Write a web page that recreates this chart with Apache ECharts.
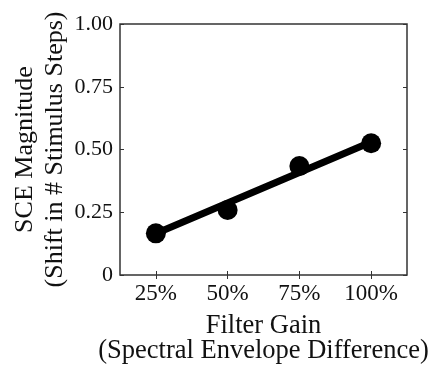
<!DOCTYPE html>
<html>
<head>
<meta charset="utf-8">
<script src="https://cdn.jsdelivr.net/npm/echarts@6/dist/echarts.min.js"></script>
<style>
  html, body { margin: 0; padding: 0; background: #fff; }
  #chart { width: 430px; height: 366px; }
</style>
</head>
<body>
<div id="chart"></div>
<script>
// values
const filterGains = ["25%", "50%", "75%", "100%"];
const sceMagnitude = [0.166, 0.259, 0.434, 0.525];
const fitLine = [0.165, 0.287, 0.408, 0.53];
const yTickLabels = ["0", "0.25", "0.50", "0.75", "1.00"];

const font = "Liberation Serif";
const frame = "#333";
const ink = "#111";

const chart = echarts.init(document.getElementById("chart"));

const tickStyle = { show: true, inside: true, length: 4, lineStyle: { color: frame, width: 1 } };

chart.setOption({
  animation: false,
  grid: {
    left: 120, right: 23, top: 24, bottom: 91,
    outerBoundsMode: "none",
    show: true, borderColor: frame, borderWidth: 1.5,
  },
  textStyle: { fontFamily: font },
  xAxis: [
    {
      type: "category",
      data: filterGains,
      boundaryGap: true,
      axisLine: { show: false },
      axisTick: { ...tickStyle, alignWithLabel: true },
      axisLabel: { color: ink, fontSize: 23, fontFamily: font, margin: 7 },
      name: "Filter Gain\n(Spectral Envelope Difference)",
      nameLocation: "middle",
      nameGap: 39,
      nameMoveOverlap: false,
      nameTextStyle: { color: ink, fontSize: 26.5, fontFamily: font, lineHeight: 25 },
      splitLine: { show: false },
    },
    {
      type: "category",
      data: filterGains,
      position: "top",
      boundaryGap: true,
      axisLine: { show: false },
      axisTick: { ...tickStyle, alignWithLabel: true },
      axisLabel: { show: false },
    },
  ],
  yAxis: [
    {
      type: "value",
      min: 0,
      max: 1,
      interval: 0.25,
      axisLine: { show: false },
      axisTick: tickStyle,
      splitLine: { show: false },
      axisLabel: {
        color: ink,
        fontSize: 22,
        fontFamily: font,
        margin: 7,
        formatter: (value) => yTickLabels[Math.round(value / 0.25)],
      },
      name: "SCE Magnitude\n(Shift in # Stimulus Steps)",
      nameLocation: "middle",
      nameRotate: 90,
      nameGap: 50,
      nameMoveOverlap: false,
      nameTextStyle: { color: ink, fontSize: 26, fontFamily: font, lineHeight: 30 },
    },
    {
      type: "value",
      position: "right",
      min: 0,
      max: 1,
      interval: 0.25,
      axisLine: { show: false },
      axisTick: tickStyle,
      splitLine: { show: false },
      axisLabel: { show: false },
    },
  ],
  series: [
    {
      name: "Fit",
      type: "line",
      data: fitLine,
      showSymbol: false,
      lineStyle: { color: "#000", width: 7 },
      z: 2,
    },
    {
      name: "SCE",
      type: "scatter",
      data: sceMagnitude,
      symbol: "circle",
      symbolSize: 20,
      itemStyle: { color: "#000", opacity: 1 },
      z: 3,
    },
  ],
});
</script>
</body>
</html>
